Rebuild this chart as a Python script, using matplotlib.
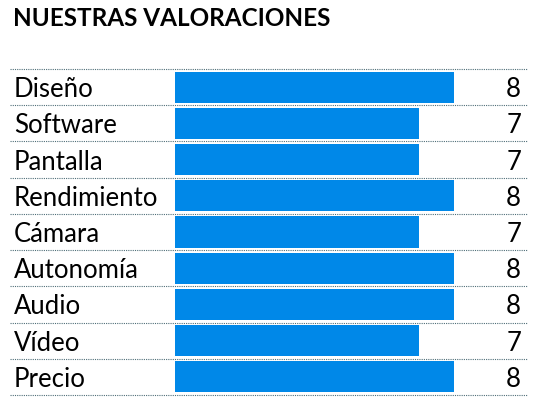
import matplotlib
matplotlib.use("Agg")
import matplotlib.pyplot as plt

categorias = ["Diseño", "Software", "Pantalla", "Rendimiento", "Cámara",
              "Autonomía", "Audio", "Vídeo", "Precio"]
notas = [8, 7, 7, 8, 7, 8, 8, 7, 8]

W, H = 541, 400
fig = plt.figure(figsize=(W / 100, H / 100), dpi=100)

# axes: x=0 at pixel 175, 34.9 px per point; rows between y=69 and y=395
px_unit = 34.9
left = 175 / W
width = 10 * px_unit / W
ax = fig.add_axes([left, 1 - 395 / H, width, (395 - 69) / H])

n = len(categorias)
ax.barh(range(n), notas, height=0.86, color="#0088E8", zorder=2)
ax.set_xlim(0, 10)
ax.set_ylim(n - 0.5, -0.5)
ax.axis("off")

x_line0 = (10 - 175) / px_unit
x_line1 = (527 - 175) / px_unit
bordes = [i - 0.5 for i in range(n + 1)]
ax.hlines(bordes, x_line0, x_line1, colors="#4f6e78", linestyles=(0, (1, 1)),
          linewidth=0.8, clip_on=False, zorder=3)

x_label = (14 - 175) / px_unit
x_num = (521 - 175) / px_unit
for i, (cat, v) in enumerate(zip(categorias, notas)):
    ax.text(x_label, i + 0.07, cat, ha="left", va="center", fontsize=18.5,
            family="Lato", color="black")
    ax.text(x_num, i + 0.07, str(v), ha="right", va="center", fontsize=18.5,
            family="Lato", color="black")

fig.text(13 / W, 1 - 18 / H, "NUESTRAS VALORACIONES", ha="left", va="center",
         fontsize=17.5, fontweight="bold", family="Lato", color="black")

fig.savefig("out.png", dpi=100)
